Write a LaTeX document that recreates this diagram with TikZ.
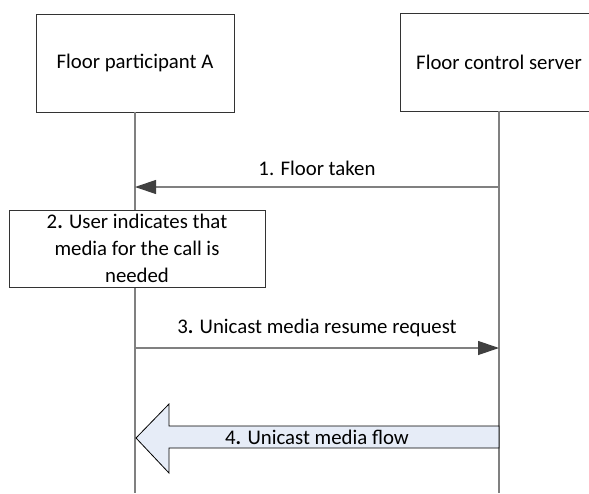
\documentclass[tikz,border=0pt]{standalone}
\usepackage{fontspec}
\setmainfont{Carlito}
\usetikzlibrary{arrows.meta,positioning}

\definecolor{flowfill}{RGB}{230,236,247}
\tikzset{
  entity/.style={draw=black!80,fill=white,minimum width=99pt,minimum height=49pt,inner sep=0pt},
  action/.style={draw=black!80,fill=white,minimum width=128pt,minimum height=38.5pt,inner sep=1pt,align=center},
  lifeline/.style={draw=black!50,line width=0.6pt},
  msg/.style={draw=black!50,line width=0.6pt,-{Triangle[length=10.5pt,width=7pt,color=black!75]}},
  flow/.style={draw=black,line width=0.4pt,fill=flowfill}
}

\begin{document}
\begin{tikzpicture}[x=0.5pt,y=-0.5pt,font=\fontsize{10.4}{13.5}\selectfont]
      \clip (0,0) rectangle (589,493);
      % participants
      \node[entity] (A) at (135,63) {Floor participant A};
      \node[entity] (B) at (499,62) {Floor control server};
      \coordinate (Aend) at (135,493);
      \coordinate (Bend) at (499,493);
      \draw[lifeline] (A) -- (Aend);
      \draw[lifeline] (B) -- (Bend);
      % 1
      \coordinate (b1) at (499,187);
      \coordinate (a1) at (135,187);
      \draw[msg] (b1) -- node[above=2pt, black] {1. Floor taken} (a1);
      % 2
      \node[action] (S2) at (137,248.5) {2\textbf{.} User indicates that\\ media for the call is\\ needed};
      % 3
      \coordinate (a3) at (135,348);
      \coordinate (b3) at (499,348);
      \draw[msg] (a3) -- node[above=2pt, black] {3\textbf{.} Unicast media resume request} (b3);
      % 4
      \draw[flow] (499,426) -- (169,426) -- (169,404) -- (136,438)
        -- (169,473) -- (169,448) -- (499,448) -- cycle;
      \node (L4) at (317,437) {4\textbf{.} Unicast media flow};
    \end{tikzpicture}
\end{document}
